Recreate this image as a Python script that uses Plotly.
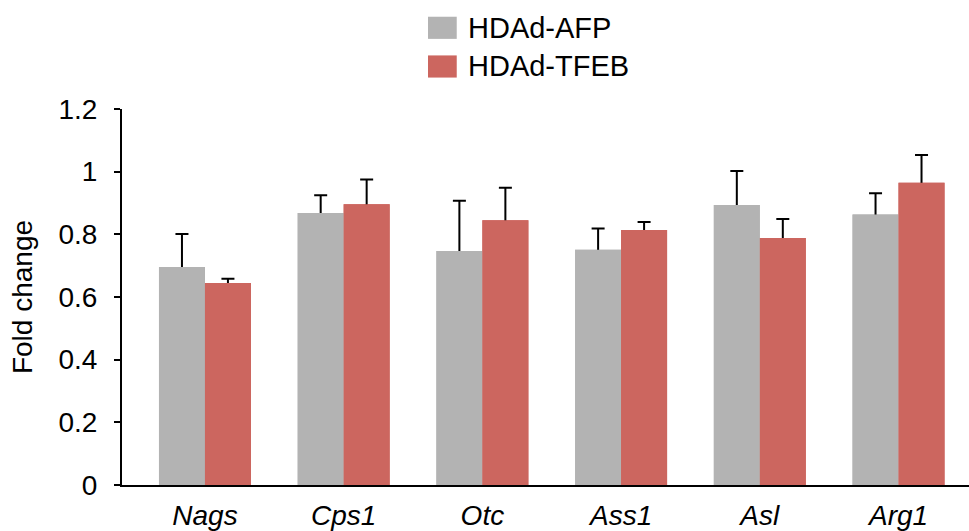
import plotly.graph_objects as go

categories = ["Nags", "Cps1", "Otc", "Ass1", "Asl", "Arg1"]
series_names = ["HDAd-AFP", "HDAd-TFEB"]
afp_values = [0.696, 0.868, 0.747, 0.751, 0.894, 0.863]
afp_errors = [0.105, 0.057, 0.160, 0.068, 0.108, 0.068]
tfeb_values = [0.645, 0.896, 0.845, 0.814, 0.788, 0.965]
tfeb_errors = [0.013, 0.079, 0.104, 0.025, 0.061, 0.088]
y_ticks = [0, 0.2, 0.4, 0.6, 0.8, 1.0, 1.2]
y_tick_labels = ["0", "0.2", "0.4", "0.6", "0.8", "1", "1.2"]

colors = ["#b3b3b3", "#cc665f"]
FONT = "Liberation Sans, Arial, Helvetica, sans-serif"

series = [(series_names[0], afp_values, afp_errors, colors[0], "afp"),
          (series_names[1], tfeb_values, tfeb_errors, colors[1], "tfeb")]

fig = go.Figure()
# bars with symmetric error bars (lower half is hidden by the overlay below)
for name, vals, errs, col, grp in series:
    fig.add_trace(go.Bar(
        x=categories, y=vals, name=name, offsetgroup=grp,
        marker=dict(color=col, line=dict(width=0)),
        error_y=dict(type="data", array=errs, color="black",
                     thickness=2, width=6.5),
        showlegend=False, hoverinfo="skip",
    ))
# same bars drawn on top, so only the upper whisker shows
for name, vals, errs, col, grp in series:
    fig.add_trace(go.Bar(
        x=categories, y=vals, name=name, offsetgroup=grp,
        marker=dict(color=col, line=dict(width=0)),
        showlegend=False,
    ))

# legend drawn manually (larger swatches as in reference)
leg_y = [(1.1865, 1.2454, 1.2164), (1.0836, 1.1425, 1.1135)]
for (y0, y1, yt), name, col in zip(leg_y, series_names, colors):
    fig.add_shape(type="rect", xref="paper", yref="paper",
                  x0=0.3613, x1=0.3952, y0=y0, y1=y1,
                  fillcolor=col, line=dict(width=0))
    fig.add_annotation(xref="paper", yref="paper", x=0.4061, y=yt,
                       text=name, showarrow=False, xanchor="left",
                       yanchor="middle",
                       font=dict(family=FONT, size=29, color="black"))

fig.update_layout(
    width=969, height=531,
    margin=dict(l=122, r=0, t=109, b=43),
    paper_bgcolor="white", plot_bgcolor="white",
    barmode="group", bargap=0.337, bargroupgap=0,
    font=dict(family=FONT, size=28, color="black"),
    xaxis=dict(
        range=[-0.598, 5.508],
        showline=True, linecolor="black", linewidth=2,
        ticks="", showgrid=False, zeroline=False,
        tickfont=dict(family=FONT, size=28, style="italic"),
        ticklabelstandoff=4,
    ),
    yaxis=dict(
        range=[0, 1.2],
        tickvals=y_ticks, ticktext=y_tick_labels,
        showline=True, linecolor="black", linewidth=2,
        ticks="outside", ticklen=6, tickwidth=2, tickcolor="black",
        showgrid=False, zeroline=False,
        tickfont=dict(family=FONT, size=28),
        ticklabelstandoff=11,
        title=dict(text="Fold change", font=dict(family=FONT, size=28),
                   standoff=18),
    ),
)

fig.write_html("out.html", config={"displayModeBar": False},
               post_script="document.body.style.margin='0';")
